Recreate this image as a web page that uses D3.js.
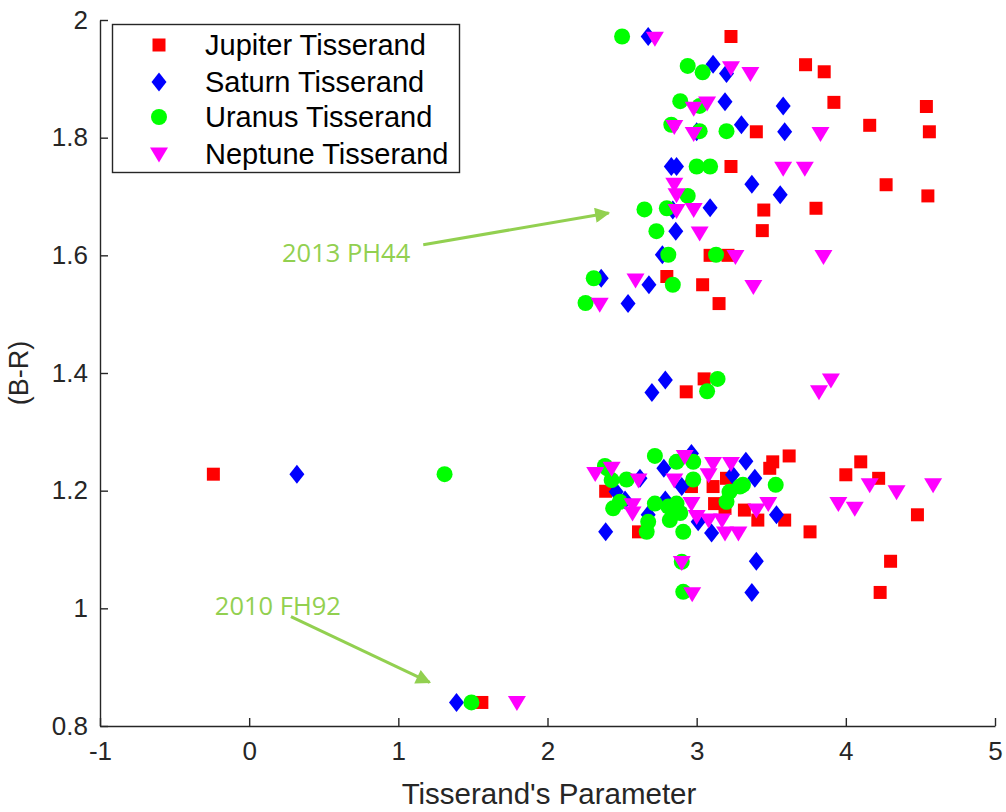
<!DOCTYPE html>
<html>
<head>
<meta charset="utf-8">
<script src="https://cdn.jsdelivr.net/npm/d3@7"></script>
<style>
  html, body { margin: 0; padding: 0; background: #fff; }
  svg { display: block; }
</style>
</head>
<body>
<svg id="chart" width="1006" height="812"></svg>
<script>
// Tisserand parameter vs (B-R) colour, one series per planet: [T, B-R]
const jupiter = [
  [3.23,1.972],[3.73,1.924],[3.855,1.912],[3.92,1.86],[4.54,1.853],[3.40,1.81],[4.16,1.821],[4.56,1.81],
  [3.23,1.751],[4.27,1.72],[4.55,1.701],[3.45,1.677],[3.80,1.68],[3.44,1.642],[3.09,1.60],[3.21,1.60],
  [2.80,1.564],[3.04,1.55],[3.15,1.518],
  [2.93,1.368],[3.05,1.39],
  [-0.24,1.228],[3.51,1.249],[3.62,1.259],[3.49,1.238],[4.10,1.249],[4.00,1.227],[4.22,1.221],[4.48,1.159],
  [3.76,1.13],[2.39,1.199],[3.20,1.221],[2.965,1.207],[3.11,1.207],[2.61,1.13],[3.12,1.178],[3.32,1.167],
  [3.41,1.15],[3.59,1.15],[3.19,1.17],[4.30,1.08],[4.23,1.027],[1.56,0.84]
];
const saturn = [
  [2.675,1.972],[3.11,1.925],[3.20,1.909],[3.19,1.861],[3.58,1.854],[3.00,1.81],[3.30,1.822],[3.59,1.81],
  [2.83,1.751],[2.865,1.751],[3.37,1.721],[3.56,1.703],[2.84,1.677],[3.09,1.681],[2.86,1.641],[2.77,1.601],
  [2.36,1.561],[2.68,1.55],[2.54,1.518],
  [2.70,1.367],[2.79,1.388],
  [0.32,1.228],[2.965,1.263],[3.33,1.25],[3.39,1.221],[3.24,1.227],[2.46,1.198],[2.62,1.221],[2.78,1.238],
  [2.90,1.207],[2.52,1.184],[2.79,1.184],[2.675,1.159],[3.01,1.147],[3.10,1.128],[3.535,1.159],[2.39,1.13],
  [3.40,1.08],[3.37,1.027],[1.39,0.84]
];
const uranus = [
  [2.50,1.972],[2.94,1.922],[3.04,1.911],[2.89,1.862],[3.02,1.854],[2.83,1.822],[3.02,1.811],[3.20,1.811],
  [3.00,1.751],[3.09,1.751],[2.94,1.701],[2.65,1.678],[2.80,1.68],[2.73,1.641],[2.81,1.601],[3.13,1.601],
  [2.31,1.561],[2.84,1.55],[2.255,1.519],
  [3.14,1.39],[3.07,1.369],
  [1.31,1.228],[2.72,1.259],[2.865,1.249],[2.977,1.249],[3.53,1.21],[3.31,1.21],[2.385,1.242],[2.43,1.218],
  [2.53,1.219],[2.977,1.219],[3.22,1.198],[3.29,1.207],[3.20,1.181],[2.44,1.17],[2.485,1.181],[2.72,1.178],
  [2.81,1.173],[2.865,1.178],[2.89,1.162],[2.82,1.15],[2.675,1.147],[2.665,1.13],[2.91,1.13],[2.40,1.238],
  [2.90,1.079],[2.91,1.028],[1.49,0.84]
];
const neptune = [
  [2.72,1.969],[3.23,1.919],[3.36,1.909],[2.98,1.85],[3.07,1.859],[2.85,1.819],[2.98,1.807],[3.83,1.807],
  [3.58,1.748],[3.725,1.748],[2.85,1.721],[2.865,1.703],[2.865,1.676],[2.98,1.678],[3.02,1.638],[3.26,1.598],
  [3.85,1.598],[2.59,1.558],[3.38,1.547],[2.35,1.517],
  [3.82,1.368],[3.90,1.388],
  [2.92,1.258],[3.11,1.246],[3.23,1.246],[4.16,1.21],[4.34,1.198],[4.585,1.21],[3.95,1.178],[4.06,1.17],
  [2.32,1.229],[2.43,1.238],[2.61,1.218],[2.85,1.218],[3.08,1.227],[2.57,1.176],[2.57,1.162],[2.965,1.178],
  [3.00,1.156],[3.08,1.15],[3.17,1.15],[3.19,1.128],[3.28,1.128],[3.40,1.167],[3.48,1.178],[2.90,1.078],
  [2.97,1.025],[1.795,0.84]
];

const seriesNames = ["Jupiter Tisserand", "Saturn Tisserand", "Uranus Tisserand", "Neptune Tisserand"];
const seriesData = [jupiter, saturn, uranus, neptune];
const seriesColors = ["#ff0000", "#0000ff", "#00ff00", "#ff00ff"];
const seriesShapes = ["square", "diamond", "circle", "triangleDown"];

const xTicks = [-1, 0, 1, 2, 3, 4, 5];
const yTicks = [0.8, 1, 1.2, 1.4, 1.6, 1.8, 2];
const xTickLabels = ["-1", "0", "1", "2", "3", "4", "5"];
const yTickLabels = ["0.8", "1", "1.2", "1.4", "1.6", "1.8", "2"];

// Labelled objects: text and the point the arrow lands on, in data units
const notes = [
  { text: "2013 PH44", tip: [2.41, 1.672], tail: [1.167, 1.618], label: [0.22, 1.606] },
  { text: "2010 FH92", tip: [1.21, 0.874], tail: [0.28, 0.986], label: [-0.23, 1.006] }
];

const axisColor = "#262626";
const noteColor = "#92d050";

const svg = d3.select("#chart");
const margin = { left: 100, right: 995, top: 20, bottom: 726 };

const x = d3.scaleLinear().domain([-1, 5]).range([margin.left, margin.right]);
const y = d3.scaleLinear().domain([0.8, 2]).range([margin.bottom, margin.top]);

// Marker outlines centred on (0,0)
function markerPath(shape) {
  const p = d3.path();
  if (shape === "square") {
    p.rect(-6.5, -6.5, 13, 13);
  } else if (shape === "diamond") {
    p.moveTo(0, -9.5); p.lineTo(7.5, 0); p.lineTo(0, 9.5); p.lineTo(-7.5, 0); p.closePath();
  } else if (shape === "circle") {
    p.arc(0, 0, 8, 0, 2 * Math.PI);
  } else {
    p.moveTo(-9, -6.5); p.lineTo(9, -6.5); p.lineTo(0, 8.5); p.closePath();
  }
  return p.toString();
}

// Axes (ticks pointing inward, no box)
const xAxis = d3.axisBottom(x).tickValues(xTicks).tickSizeInner(-8).tickSizeOuter(0)
  .tickFormat((d, i) => xTickLabels[i]).tickPadding(22);
const yAxis = d3.axisLeft(y).tickValues(yTicks).tickSizeInner(-8).tickSizeOuter(0)
  .tickFormat((d, i) => yTickLabels[i]).tickPadding(12);

const gx = svg.append("g").attr("transform", `translate(0,${margin.bottom})`).call(xAxis);
const gy = svg.append("g").attr("transform", `translate(${margin.left},0)`).call(yAxis);

[gx, gy].forEach(g => {
  g.select(".domain").attr("stroke", axisColor).attr("stroke-width", 1.4);
  g.selectAll(".tick line").attr("stroke", axisColor).attr("stroke-width", 1.4);
  g.selectAll(".tick text")
    .attr("fill", axisColor)
    .style("font-family", "'Liberation Sans', Arial, sans-serif")
    .style("font-size", "26px");
});
gx.selectAll(".tick text").attr("dy", "0.45em");

// Axis titles
svg.append("text")
  .attr("x", 549).attr("y", 804)
  .attr("text-anchor", "middle")
  .attr("fill", axisColor)
  .style("font-family", "'Liberation Sans', Arial, sans-serif")
  .style("font-size", "29.5px")
  .text("Tisserand's Parameter");

svg.append("text")
  .attr("transform", `translate(28,${(margin.top + margin.bottom) / 2}) rotate(-90)`)
  .attr("text-anchor", "middle")
  .attr("fill", axisColor)
  .style("font-family", "'Liberation Sans', Arial, sans-serif")
  .style("font-size", "27px")
  .text("(B-R)");

// Scatter points, drawn series by series
seriesData.forEach((data, i) => {
  svg.append("g")
    .selectAll("path")
    .data(data)
    .join("path")
    .attr("d", markerPath(seriesShapes[i]))
    .attr("transform", d => `translate(${x(d[0])},${y(d[1])})`)
    .attr("fill", seriesColors[i]);
});

// Annotations with arrows
const defs = svg.append("defs");
defs.append("marker")
  .attr("id", "arrowHead")
  .attr("viewBox", "0 0 10 10")
  .attr("refX", 9).attr("refY", 5)
  .attr("markerWidth", 6).attr("markerHeight", 5)
  .attr("markerUnits", "strokeWidth")
  .attr("orient", "auto")
  .append("path")
  .attr("d", "M0,0 L10,5 L0,10 Z")
  .attr("fill", noteColor);

notes.forEach(n => {
  svg.append("line")
    .attr("x1", x(n.tail[0])).attr("y1", y(n.tail[1]))
    .attr("x2", x(n.tip[0])).attr("y2", y(n.tip[1]))
    .attr("stroke", noteColor).attr("stroke-width", 3)
    .attr("marker-end", "url(#arrowHead)");
  svg.append("text")
    .attr("x", x(n.label[0])).attr("y", y(n.label[1]))
    .attr("dominant-baseline", "central")
    .attr("fill", noteColor)
    .style("font-family", "'Open Sans', sans-serif")
    .style("font-size", "25.5px")
    .text(n.text);
});

// Legend
const legend = svg.append("g");
legend.append("rect")
  .attr("x", 112.5).attr("y", 24.5).attr("width", 347).attr("height", 148)
  .attr("fill", "#fff").attr("stroke", axisColor).attr("stroke-width", 1.4);
const rowY = [45, 82, 117, 154];
seriesNames.forEach((name, i) => {
  legend.append("path")
    .attr("d", markerPath(seriesShapes[i]))
    .attr("transform", `translate(159,${rowY[i]})`)
    .attr("fill", seriesColors[i]);
  legend.append("text")
    .attr("x", 205).attr("y", rowY[i])
    .attr("dominant-baseline", "central")
    .attr("fill", "#000")
    .style("font-family", "'Liberation Sans', Arial, sans-serif")
    .style("font-size", "29px")
    .text(name);
});
</script>
</body>
</html>
